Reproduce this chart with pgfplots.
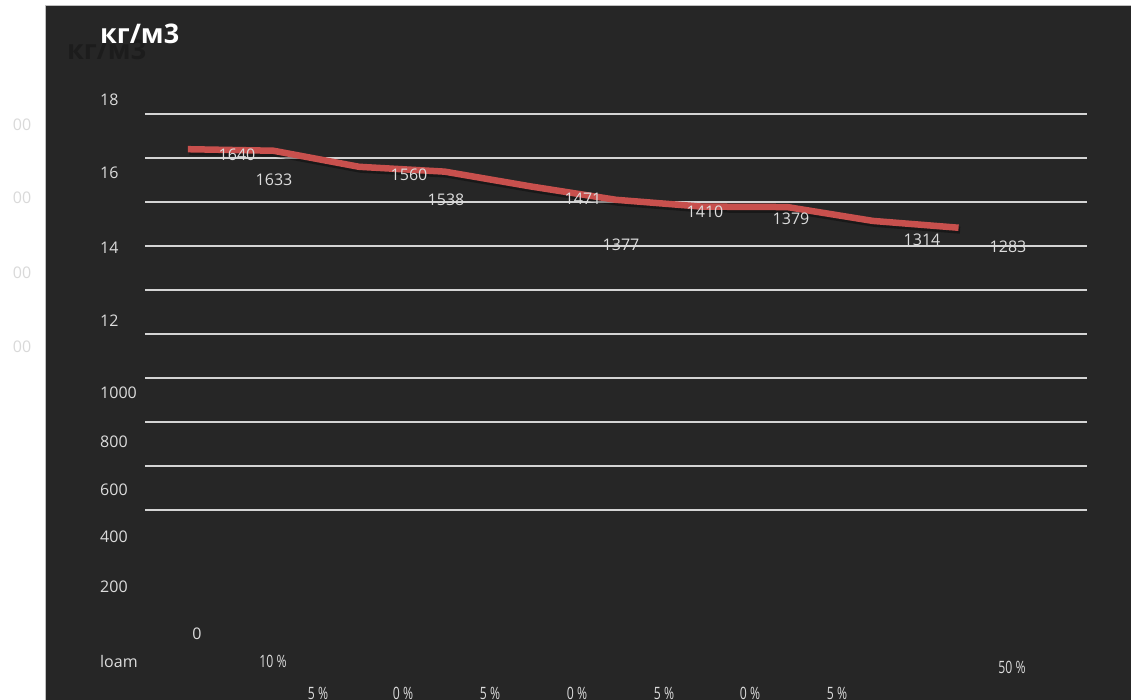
\documentclass[border=0pt]{standalone}
\usepackage{pgfplots}
\pgfplotsset{compat=1.18}
\usepackage{graphicx}
\usepackage{fontspec}
\setmainfont{Open Sans}

\definecolor{panel}{HTML}{262626}
\definecolor{ghost}{HTML}{1C1C1C}
\definecolor{gridc}{HTML}{D4D4D4}
\definecolor{labc}{HTML}{DCDCDC}
\definecolor{leftc}{HTML}{D9D9D9}
\definecolor{linered}{RGB}{200,80,77}
\definecolor{framec}{HTML}{BFBFBF}

\pgfplotstableread{
x y
0 1640
1 1633
2 1560
3 1538
4 1471
5 1410
6 1379
7 1377
8 1314
9 1283
}\density

\newcommand{\lab}{\fontsize{16}{19}\selectfont}
\newcommand{\ttl}{\fontsize{27}{32}\selectfont\bfseries}
% narrow percent labels
\newcommand{\pct}[1]{\scalebox{0.72}[1]{\fontsize{17}{20}\selectfont #1}}

\begin{document}
\begin{tikzpicture}
  % page: origin at the top-left corner, y grows downward as -y
  \useasboundingbox (0,0) rectangle (1131pt,-700pt);
  \clip (0,0) rectangle (1131pt,-700pt);
  \fill[white] (0,0) rectangle (1131pt,-700pt);
  \fill[panel] (45pt,-6pt) rectangle (1131pt,-700pt);
  \draw[framec, line width=1pt] (45pt,-700pt) -- (45pt,-6pt) -- (1131pt,-6pt);

  % stray labels in the left margin
  \foreach \yy in {125,198,273,347}
    \node[leftc, inner sep=0pt] at (22pt,-\yy pt) {\lab 00};

  % units: shadowed copy and title
  \node[ghost, inner sep=0pt, anchor=west] at (67pt,-50pt) {\ttl кг/м3};
  \node[white, inner sep=0pt, anchor=west] at (100pt,-34pt) {\ttl кг/м3};

  \begin{axis}[
    at={(145pt,-510pt)}, anchor=south west,
    scale only axis, width=942pt, height=396pt,
    xmin=-0.5, xmax=10.5, ymin=0, ymax=1800,
    axis line style={draw=none},
    major tick length=0pt,
    xtick=\empty,
    ytick={0,200,...,1800}, yticklabels={},
    ymajorgrids,
    grid style={color=gridc, line width=1.6pt},
    clip=false,
  ]
    \addplot[black, opacity=0.35, line width=7pt, line join=round,
             xshift=1.5pt, yshift=-2.5pt] table[x=x, y=y] {\density};
    \addplot[linered, line width=6.5pt, line join=round] table[x=x, y=y] {\density};
  \end{axis}

  % value labels
  \begin{scope}[every node/.style={labc, inner sep=0pt}]
    \node at (237pt,-155pt) {\lab 1640};
    \node at (274pt,-180pt) {\lab 1633};
    \node at (409pt,-175pt) {\lab 1560};
    \node at (446pt,-200pt) {\lab 1538};
    \node at (583pt,-199pt) {\lab 1471};
    \node at (621pt,-245pt) {\lab 1377};
    \node at (705pt,-212pt) {\lab 1410};
    \node at (791pt,-219pt) {\lab 1379};
    \node at (922pt,-240pt) {\lab 1314};
    \node at (1008pt,-247pt) {\lab 1283};
  \end{scope}

  % vertical scale labels
  \begin{scope}[every node/.style={labc, inner sep=0pt, anchor=west}]
    \node at (100pt,-100pt) {\lab 18};
    \node at (100pt,-173pt) {\lab 16};
    \node at (100pt,-248pt) {\lab 14};
    \node at (100pt,-321pt) {\lab 12};
    \node at (100pt,-393pt) {\lab 1000};
    \node at (100pt,-442pt) {\lab 800};
    \node at (100pt,-490pt) {\lab 600};
    \node at (100pt,-537pt) {\lab 400};
    \node at (100pt,-587pt) {\lab 200};
    \node at (100pt,-661pt) {\lab loam};
  \end{scope}
  \node[labc, inner sep=0pt] at (197pt,-634pt) {\lab 0};

  % category labels
  \begin{scope}[every node/.style={labc, inner sep=0pt}]
    \node at (273pt,-661pt) {\pct{10 \%}};
    \node at (1012pt,-667pt) {\pct{50 \%}};
    \node at (318pt,-693pt) {\pct{5 \%}};
    \node at (403pt,-693pt) {\pct{0 \%}};
    \node at (490pt,-693pt) {\pct{5 \%}};
    \node at (577pt,-693pt) {\pct{0 \%}};
    \node at (664pt,-693pt) {\pct{5 \%}};
    \node at (750pt,-693pt) {\pct{0 \%}};
    \node at (837pt,-693pt) {\pct{5 \%}};
  \end{scope}
\end{tikzpicture}
\end{document}
